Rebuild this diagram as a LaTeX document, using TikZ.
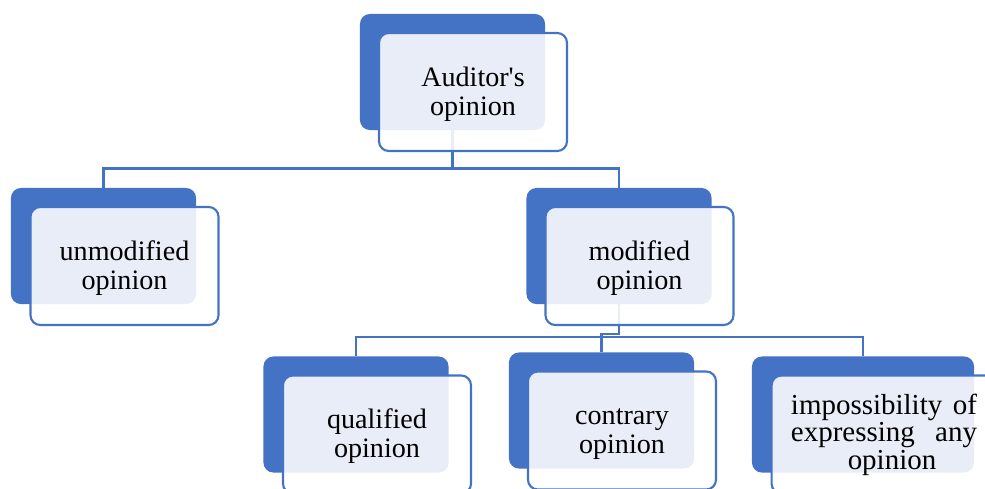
\documentclass[tikz,border=0pt]{standalone}
\usepackage{fontspec}
\setmainfont{Liberation Serif}
\usetikzlibrary{backgrounds}
\definecolor{boxblue}{HTML}{4472C4}
\newcommand{\firstline}{\rule{0pt}{16.5pt}}

\begin{document}
\begin{tikzpicture}[x=0.025cm, y=-0.025cm,
        backbox/.style={fill=boxblue, rounded corners=7pt, inner sep=0pt,
            minimum width=4.625cm, minimum height=2.9cm},
        frontbox/.style={draw=boxblue, line width=1.5pt, fill=white,
            fill opacity=0.88, text opacity=1, rounded corners=7pt, inner sep=0pt,
            minimum width=4.7cm, minimum height=2.95cm, align=center,
            font=\fontsize{20}{20.6}\selectfont},
        link/.style={draw=boxblue, line width=1.6pt}]
        \useasboundingbox (0,0) rectangle (985,488);

        % back boxes
        \node [backbox] (AuditorBack) at (452.5,72) {};
        \node [backbox] (UnmodBack) at (103.5,246) {};
        \node [backbox] (ModBack) at (619,246) {};
        \node [backbox] (QualBack) at (356,414.5) {};
        \node [backbox] (ContraryBack) at (601.5,410.5) {};
        \node [backbox, minimum width=5.55cm] (ImpBack) at (863,414.5) {};

        % front boxes
        \node [frontbox] (Auditor) at ([shift={(20.5,20)}]AuditorBack.center)
            {\firstline Auditor\textquotesingle s\\opinion};
        \node [frontbox] (Unmod) at ([shift={(21,20)}]UnmodBack.center)
            {\firstline unmodified\\opinion};
        \node [frontbox] (Mod) at ([shift={(20.5,20)}]ModBack.center)
            {\firstline modified\\opinion};
        \node [frontbox] (Qual) at ([shift={(21,20)}]QualBack.center)
            {\firstline qualified\\opinion};
        \node [frontbox] (Contrary) at ([shift={(20.5,20)}]ContraryBack.center)
            {\firstline contrary\\opinion};
        \node [frontbox, minimum width=5.62cm, font=\fontsize{20.6}{19.6}\selectfont] (Imp)
            at ([shift={(21,20)}]ImpBack.center)
            {\makebox[4.65cm][s]{impossibility of}\\\makebox[4.65cm][s]{expressing any}\\\hspace*{0.4cm}opinion};

        % connectors
        \begin{scope}[on background layer]
            \coordinate (TopFork) at (452.5,168.5);
            \coordinate (ModFork) at (619,334);
            \coordinate (BottomBar) at (610,337);
            \draw [link] (AuditorBack.south)--(TopFork);
            \draw [link] (UnmodBack.north) |- (TopFork) -| (ModBack.north);
            \draw [link] (ModBack.south)--(ModFork) -| (ContraryBack.north);
            \draw [link] (QualBack.north) |- (BottomBar) -| (ImpBack.north);
        \end{scope}
    \end{tikzpicture}
\end{document}
